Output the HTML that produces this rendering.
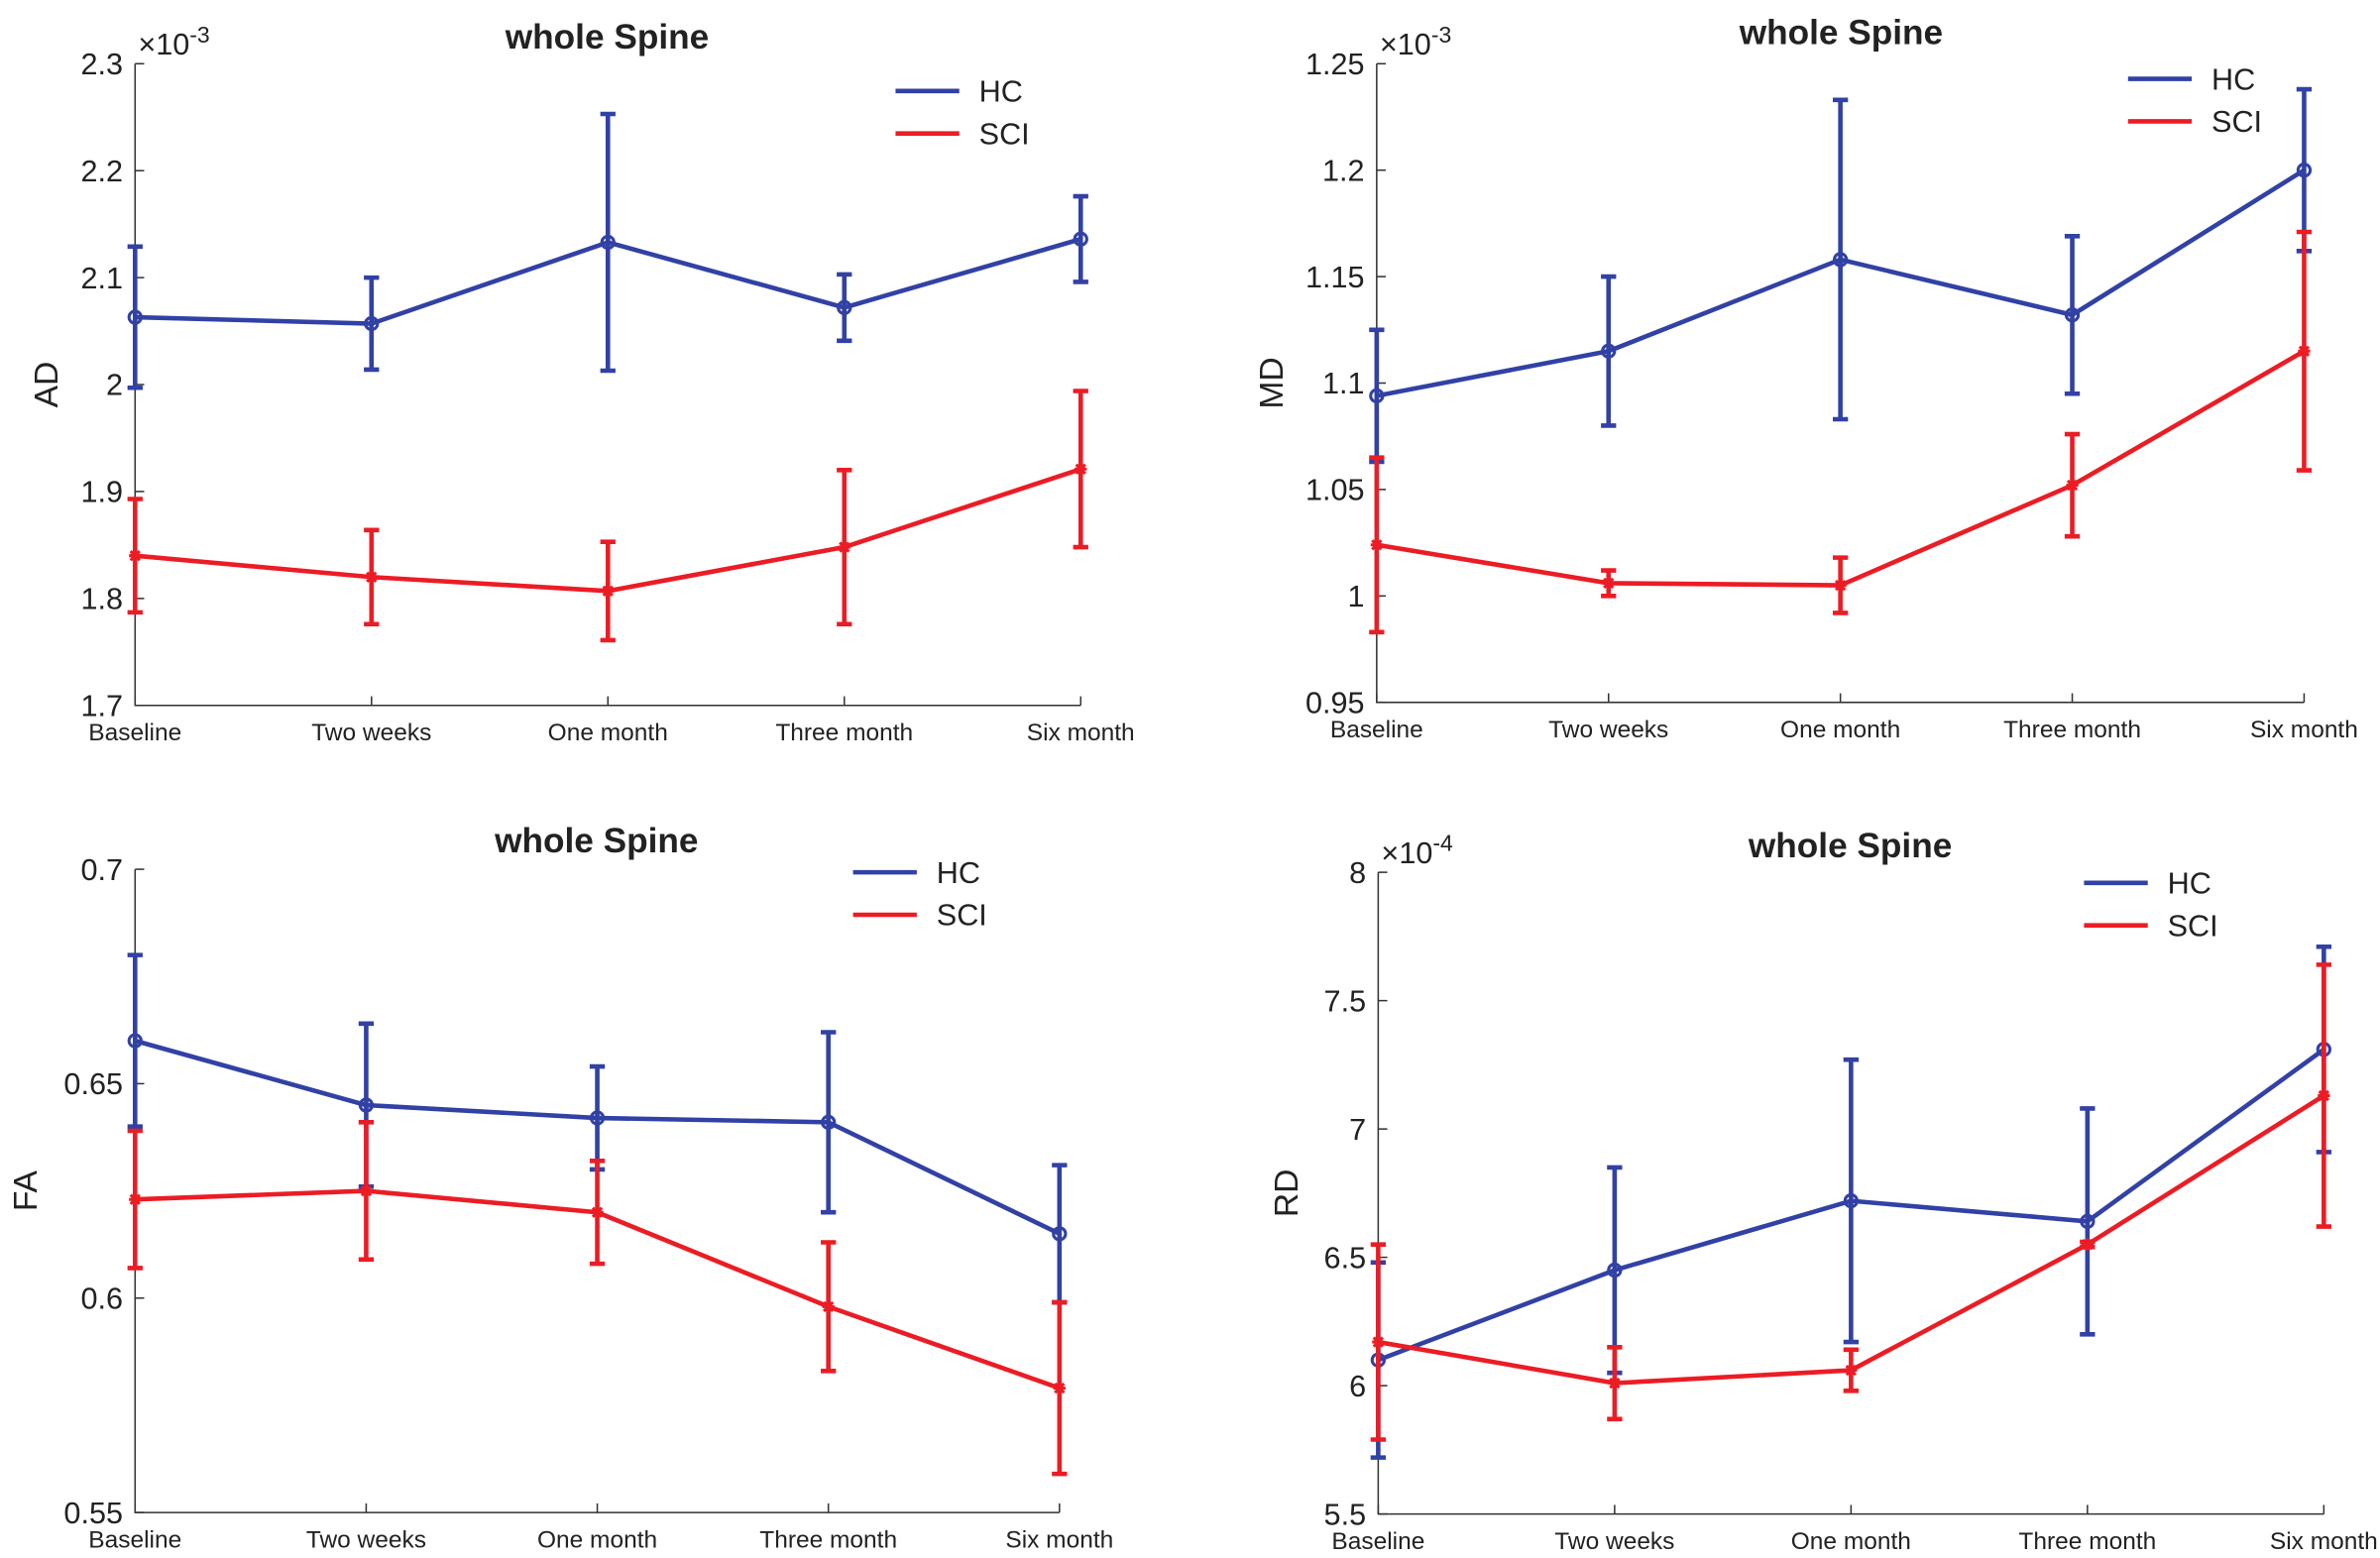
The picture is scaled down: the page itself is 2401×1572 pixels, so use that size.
<!DOCTYPE html>
<html><head><meta charset="utf-8"><style>
html,body{margin:0;padding:0;background:#fff}
svg{display:block}
text{font-family:"Liberation Sans",Arial,sans-serif;fill:#222}
</style></head><body>
<svg id="c" width="2401" height="1572" viewBox="0 0 1568 1027" preserveAspectRatio="none" xmlns="http://www.w3.org/2000/svg"></svg>
<script>
const categories=["Baseline","Two weeks","One month","Three month","Six month"];
const adHC=[2.063,2.057,2.133,2.072,2.136];
const adHCerr=[0.066,0.043,0.12,0.031,0.04];
const adSCI=[1.840,1.820,1.807,1.848,1.921];
const adSCIerr=[0.053,0.044,0.046,0.072,0.073];
const adTicks=["1.7","1.8","1.9","2","2.1","2.2","2.3"];
const mdHC=[1.094,1.115,1.158,1.132,1.200];
const mdHCerr=[0.031,0.035,0.075,0.037,0.038];
const mdSCI=[1.024,1.006,1.005,1.052,1.115];
const mdSCIerr=[0.041,0.006,0.013,0.024,0.056];
const mdTicks=["0.95","1","1.05","1.1","1.15","1.2","1.25"];
const faHC=[0.660,0.645,0.642,0.641,0.615];
const faHCerr=[0.020,0.019,0.012,0.021,0.016];
const faSCI=[0.623,0.625,0.620,0.598,0.579];
const faSCIerr=[0.016,0.016,0.012,0.015,0.020];
const faTicks=["0.55","0.6","0.65","0.7"];
const rdHC=[6.10,6.45,6.72,6.64,7.31];
const rdHCerr=[0.38,0.40,0.55,0.44,0.40];
const rdSCI=[6.17,6.01,6.06,6.55,7.13];
const rdSCIerr=[0.38,0.14,0.08,0.01,0.51];
const rdTicks=["5.5","6","6.5","7","7.5","8"];

const NS="http://www.w3.org/2000/svg";
const svg=document.getElementById('c');
const BLUE="#3141a5",RED="#ec1c24";
function mk(tag,attrs,parent){const e=document.createElementNS(NS,tag);for(const k in attrs)e.setAttribute(k,attrs[k]);(parent||svg).appendChild(e);return e;}

function panel(p){
  const g=mk('g',{});
  
  
  const ymin=parseFloat(p.ticks[0]),ymax=parseFloat(p.ticks[p.ticks.length-1]);
  const X=i=>p.x0+(p.x1-p.x0)*i/(categories.length-1);
  const Y=v=>p.yb-(p.yb-p.yt)*(v-ymin)/(ymax-ymin);
  const ax=mk('path',{d:`M${p.x0} ${p.yt}V${p.yb}H${p.x1}`,stroke:'#333','stroke-width':1,fill:'none'},g);
  
  
  p.ticks.forEach(t=>{const y=Y(parseFloat(t));
    mk('line',{x1:p.x0,x2:p.x0+6,y1:y,y2:y,stroke:'#333'},g);
    const tx=mk('text',{x:p.x0-8,y:y+7,'text-anchor':'end','font-size':20},g);tx.textContent=t;
    
    
  });
  categories.forEach((c,i)=>{const x=X(i);
    mk('line',{x1:x,x2:x,y1:p.yb,y2:p.yb-6,stroke:'#333'},g);
    const tx=mk('text',{x:x,y:p.yb+23,'text-anchor':'middle','font-size':16},g);tx.textContent=c;
    
    
  });
  if(p.exp){const e=mk('text',{x:p.x0+2,y:p.yt-6,'font-size':20},g);
    e.innerHTML='×10<tspan font-size="15" dy="-8">'+p.exp+'</tspan>';
    
    }
  const ttl=mk('text',{x:p.tx,y:p.ty,'text-anchor':'middle','font-size':23,'font-weight':'bold'},g);ttl.textContent='whole Spine';
  
  
  const yl=mk('text',{x:0,y:0,'text-anchor':'middle','font-size':22,transform:`translate(${p.ylx},${(p.yt+p.yb)/2}) rotate(-90)`},g);yl.textContent=p.ylabel;
  
  
  [[p.hc,p.hce,BLUE,'hc'],[p.sci,p.scie,RED,'sci']].forEach(([vals,errs,col,nm])=>{
    const s=mk('g',{},g);
    
    
    vals.forEach((v,i)=>{const x=X(i);
      mk('path',{d:`M${x} ${Y(v-errs[i])}V${Y(v+errs[i])}M${x-5} ${Y(v-errs[i])}h10M${x-5} ${Y(v+errs[i])}h10`,stroke:col,'stroke-width':3,fill:'none'},s);});
    mk('polyline',{points:vals.map((v,i)=>X(i)+','+Y(v)).join(' '),stroke:col,'stroke-width':3,fill:'none'},s);
    vals.forEach((v,i)=>{const x=X(i),y=Y(v);
      if(nm==='hc')mk('circle',{cx:x,cy:y,r:4,stroke:col,'stroke-width':2,fill:'none'},s);
      else mk('path',{d:`M${x-4} ${y}h8M${x} ${y-4}v8M${x-3} ${y-3}l6 6M${x+3} ${y-3}l-6 6`,stroke:col,'stroke-width':2},s);
    });
  });
  [['HC',BLUE,0],['SCI',RED,28]].forEach(([l,col,dy])=>{
    const le=mk('g',{},g);
    
    
    mk('line',{x1:p.lx,x2:p.lx+42,y1:p.ly+dy,y2:p.ly+dy,stroke:col,'stroke-width':3},le);
    const t=mk('text',{x:p.lx+55,y:p.ly+dy+7,'font-size':20},le);t.textContent=l;
  });
}
panel({name:'ad-panel',x0:89,x1:712,yt:42,yb:465,ticks:adTicks,exp:'-3',hc:adHC,hce:adHCerr,sci:adSCI,scie:adSCIerr,ylabel:'AD',ylx:38,tx:400,ty:32,lx:590,ly:60});
panel({name:'md-panel',x0:907,x1:1518,yt:42,yb:463,ticks:mdTicks,exp:'-3',hc:mdHC,hce:mdHCerr,sci:mdSCI,scie:mdSCIerr,ylabel:'MD',ylx:845,tx:1213,ty:29,lx:1402,ly:52});
panel({name:'fa-panel',x0:89,x1:698,yt:573,yb:997,ticks:faTicks,exp:null,hc:faHC,hce:faHCerr,sci:faSCI,scie:faSCIerr,ylabel:'FA',ylx:24,tx:393,ty:562,lx:562,ly:575});
panel({name:'rd-panel',x0:908,x1:1531,yt:575,yb:998,ticks:rdTicks,exp:'-4',hc:rdHC,hce:rdHCerr,sci:rdSCI,scie:rdSCIerr,ylabel:'RD',ylx:855,tx:1219,ty:565,lx:1373,ly:582});
</script>
</body></html>
